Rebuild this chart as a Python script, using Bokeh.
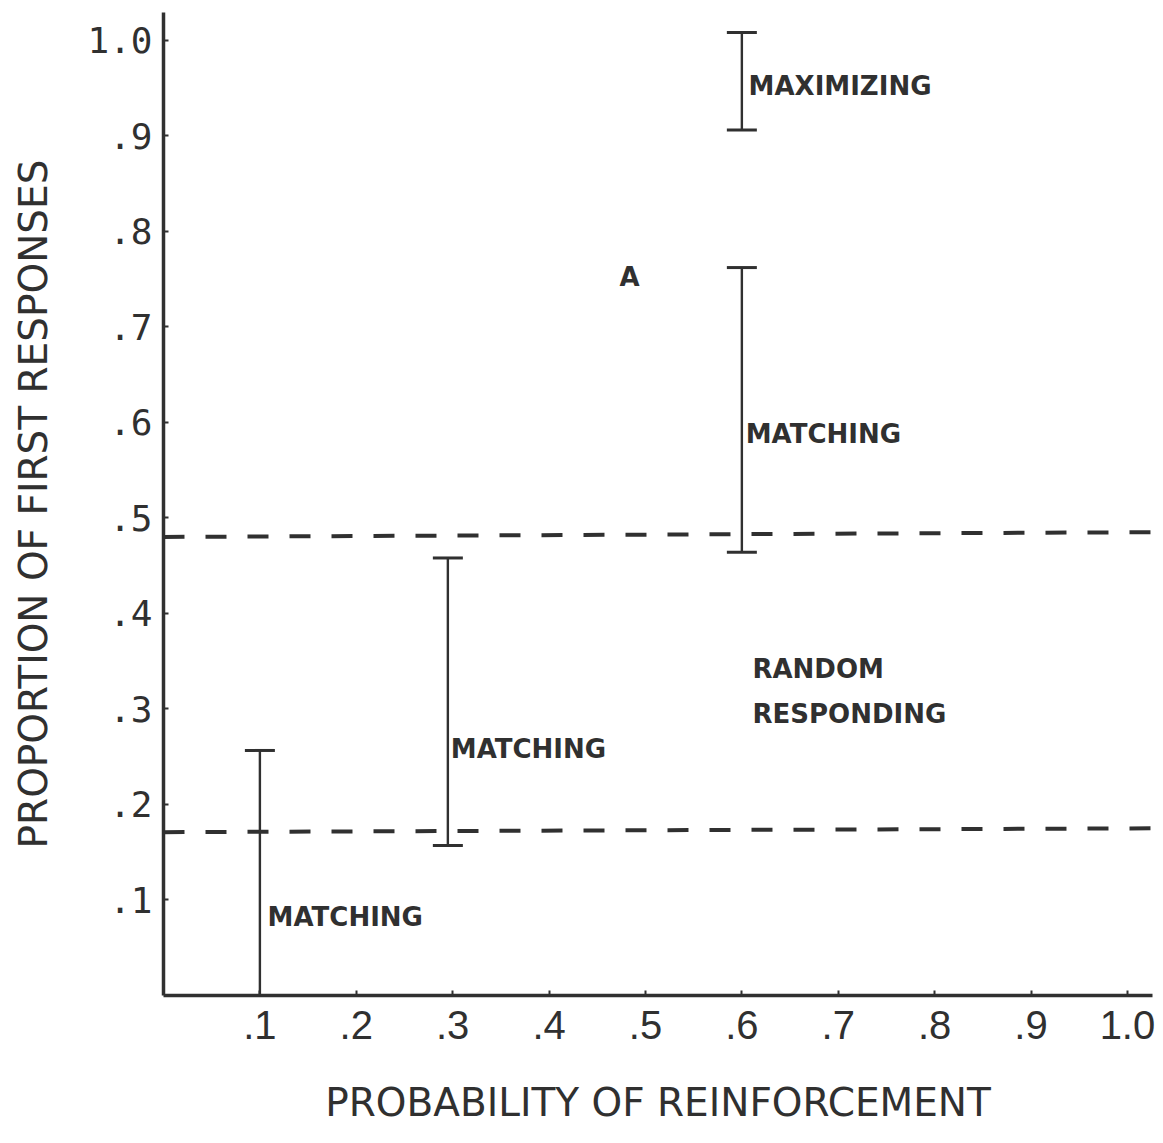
from bokeh.plotting import figure
from bokeh.models import Range1d, FixedTicker, Whisker, TeeHead, ColumnDataSource
from bokeh.core.properties import value
from bokeh.embed import file_html
from bokeh.resources import INLINE

# ---- data ----
bar_x = [0.1, 0.295, 0.6, 0.6]
bar_lower = [0.0, 0.157, 0.464, 0.906]
bar_upper = [0.2565, 0.458, 0.762, 1.008]

band_x0 = [0.0, 0.0]
band_x1 = [1.026, 1.026]
band_y0 = [0.480, 0.171]
band_y1 = [0.485, 0.175]

label_text = ["MAXIMIZING", "MATCHING", "MATCHING", "MATCHING", "RANDOM", "RESPONDING", "A"]
label_x = [0.607, 0.604, 0.298, 0.108, 0.611, 0.611, 0.473]
label_y = [0.952, 0.588, 0.258, 0.082, 0.342, 0.295, 0.752]

x_ticks = [0.1, 0.2, 0.3, 0.4, 0.5, 0.6, 0.7, 0.8, 0.9, 1.0]
x_tick_labels = [".1", ".2", ".3", ".4", ".5", ".6", ".7", ".8", ".9", "1.0"]
y_ticks = [0.1, 0.2, 0.3, 0.4, 0.5, 0.6, 0.7, 0.8, 0.9, 1.0]
y_tick_labels = [".1", ".2", ".3", ".4", ".5", ".6", ".7", ".8", ".9", "1.0"]

x_title = "PROBABILITY OF REINFORCEMENT"
y_title = "PROPORTION OF FIRST RESPONSES"

INK = "#303030"

p = figure(frame_width=989, frame_height=983,
           x_range=Range1d(0, 1.026), y_range=Range1d(0, 1.029),
           output_backend="svg", toolbar_location=None,
           min_border_left=163, min_border_right=8, min_border_top=12, min_border_bottom=136,
           background_fill_color="white", border_fill_color="white")
p.outline_line_color = None
p.grid.visible = False

for ax in (p.xaxis[0], p.yaxis[0]):
    ax.axis_line_width = 3.5
    ax.axis_line_color = INK
    ax.major_tick_in = 5
    ax.major_tick_out = 0
    ax.major_tick_line_width = 2
    ax.major_tick_line_color = INK
    ax.minor_tick_line_color = None
    ax.major_label_text_color = INK
    ax.axis_label_text_color = INK
    ax.axis_label_text_font_style = "normal"

p.xaxis.ticker = FixedTicker(ticks=x_ticks)
p.xaxis.major_label_overrides = dict(zip(x_ticks, x_tick_labels))
p.xaxis.major_label_text_font = "Liberation Sans"
p.xaxis.major_label_text_font_size = "40px"
p.xaxis.major_label_standoff = 15
p.xaxis.axis_label = x_title
p.xaxis.axis_label_text_font = "DejaVu Sans"
p.xaxis.axis_label_text_font_size = "39px"
p.xaxis.axis_label_standoff = 38

p.yaxis.ticker = FixedTicker(ticks=y_ticks)
p.yaxis.major_label_overrides = dict(zip(y_ticks, y_tick_labels))
p.yaxis.major_label_text_font = "DejaVu Sans Mono"
p.yaxis.major_label_text_font_size = "36px"
p.yaxis.major_label_standoff = 11
p.yaxis.axis_label = y_title
p.yaxis.axis_label_text_font = "DejaVu Sans"
p.yaxis.axis_label_text_font_size = "39px"
p.yaxis.axis_label_standoff = 28

# dashed boundaries
p.segment(x0=band_x0, y0=band_y0, x1=band_x1, y1=band_y1,
          line_color=INK, line_width=4, line_dash="21 21")

# range bars
src = ColumnDataSource(dict(base=bar_x, lower=bar_lower, upper=bar_upper))
w = Whisker(source=src, base="base", lower="lower", upper="upper", dimension="height",
            line_color=INK, line_width=2.4,
            upper_head=TeeHead(size=30, line_width=3, line_color=INK),
            lower_head=TeeHead(size=30, line_width=3, line_color=INK))
p.add_layout(w)

# labels
p.text(x=label_x, y=label_y, text=label_text, text_font=value("DejaVu Sans"),
       text_font_style="bold", text_font_size="26px", text_color=INK,
       text_align="left", text_baseline="middle")

open("out.html", "w").write(file_html(p, INLINE))
